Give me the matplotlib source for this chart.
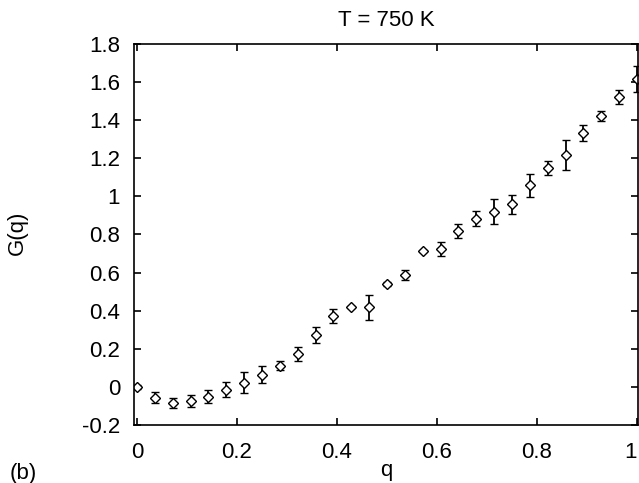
import numpy as np
import matplotlib
matplotlib.use('Agg')
from matplotlib import pyplot as plt

plt.rcParams['font.family'] = ['Liberation Sans', 'DejaVu Sans']

# q = k/28, k = 0..28
q = np.arange(29) / 28.0
G = [0.000, -0.056, -0.084, -0.075, -0.051, -0.014, 0.023, 0.065, 0.112, 0.173,
     0.270, 0.373, 0.420, 0.418, 0.539, 0.588, 0.712, 0.723, 0.820, 0.883,
     0.920, 0.959, 1.059, 1.148, 1.218, 1.332, 1.421, 1.522, 1.618]
G_err = [0.010, 0.027, 0.025, 0.030, 0.034, 0.038, 0.055, 0.045, 0.025, 0.037,
         0.042, 0.037, 0.005, 0.066, 0.010, 0.028, 0.005, 0.036, 0.037, 0.038,
         0.066, 0.050, 0.061, 0.036, 0.078, 0.043, 0.025, 0.037, 0.069]

x_ticks = [0, 0.2, 0.4, 0.6, 0.8, 1.0]
x_labels = ['0', '0.2', '0.4', '0.6', '0.8', '1']
y_ticks = [-0.2, 0, 0.2, 0.4, 0.6, 0.8, 1.0, 1.2, 1.4, 1.6, 1.8]
y_labels = ['-0.2', '0', '0.2', '0.4', '0.6', '0.8', '1', '1.2', '1.4', '1.6', '1.8']

FS = 16


def main():
    fig = plt.figure(figsize=(6.39, 4.83), dpi=100)
    ax = fig.add_axes([0.2097, 0.1201, 0.7887, 0.7888])

    ax.errorbar(q, G, yerr=G_err, fmt='D', markersize=5, markerfacecolor='white',
                markeredgecolor='black', markeredgewidth=1.0, ecolor='black',
                elinewidth=1.3, capsize=3, capthick=1.2)

    ax.set_xlim(-0.006, 1.002)
    ax.set_ylim(-0.2, 1.8)
    ax.set_xticks(x_ticks)
    ax.set_xticklabels(x_labels)
    ax.set_yticks(y_ticks)
    ax.set_yticklabels(y_labels)
    ax.tick_params(direction='in', length=5, width=1.2, top=True, right=True,
                   labelsize=FS)
    ax.tick_params(axis='x', pad=12)
    ax.tick_params(axis='y', pad=10)
    ax.get_xticklabels()[-1].set_horizontalalignment('right')
    for s in ax.spines.values():
        s.set_linewidth(1.2)

    ax.set_xlabel('q', fontsize=FS, va='top')
    ax.xaxis.set_label_coords(0.5, -0.092)
    ax.set_ylabel('G(q)', fontsize=FS)
    ax.yaxis.set_label_coords(-0.21, 0.504)
    fig.text(386 / 639, 1 - 21 / 483, 'T = 750 K', fontsize=FS, ha='center', va='center')
    fig.text(23 / 639, 1 - 474 / 483, '(b)', fontsize=FS, ha='center', va='center')

    fig.savefig('out.png', dpi=100)


if __name__ == "__main__":
    main()
